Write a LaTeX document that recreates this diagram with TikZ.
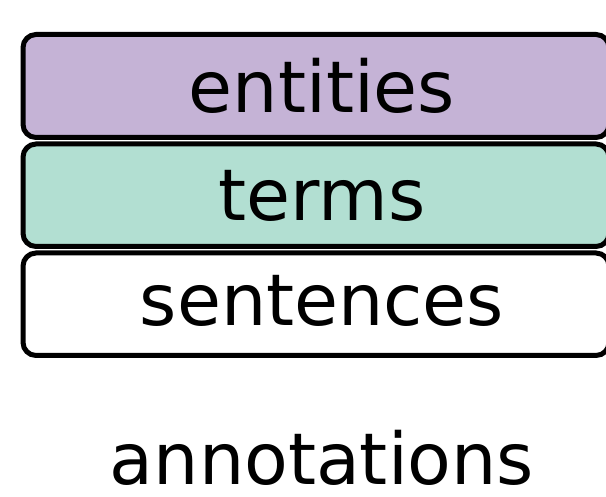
\documentclass[tikz,border=0pt]{standalone}
\usepackage{fontspec}
\setmainfont{DejaVu Sans}
\definecolor{entfill}{RGB}{197,179,214}
\definecolor{termfill}{RGB}{178,223,210}
\begin{document}
\begin{tikzpicture}[x=1pt,y=-1pt,
  layer/.style={draw=black, line width=5pt, rounded corners=13pt},
  lbl/.style={anchor=base, inner sep=0pt, font=\fontsize{71.5}{80}\selectfont}]
\useasboundingbox (0,0) rectangle (606,497);
\begin{scope}
\clip (0,0) rectangle (606,497);
\path[layer, fill=entfill] (23,34.5) rectangle (609,137.5);
\path[layer, fill=termfill] (23,144) rectangle (609,246.5);
\path[layer, fill=white] (23,253) rectangle (609,355.5);
\end{scope}
\node[lbl] (ent) at (322,112.5) {entities};
\node[lbl] (trm) at (322,221) {terms};
\node[lbl] (sen) at (322,326) {sentences};
\node[lbl] (ann) at (322,484) {annotations};
\end{tikzpicture}
\end{document}
